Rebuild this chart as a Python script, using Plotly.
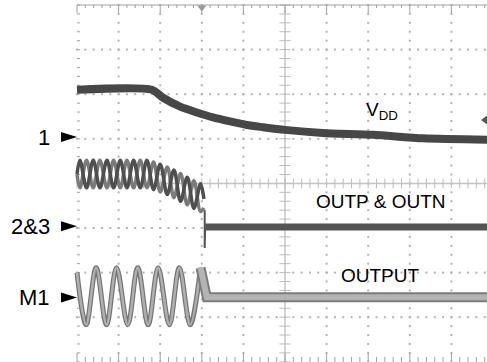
import numpy as np
import plotly.graph_objects as go

# all values in scope divisions (10 x 8 screen, centre = 0,0)
vdd_t = [-5.0, -3.20, -2.93, -2.52, -2.12, -1.73, -1.32, -0.92, -0.53, 0.0, 0.91, 2.12, 3.32, 4.90]
vdd_v = [2.10, 2.10, 1.92, 1.72, 1.59, 1.48, 1.39, 1.31, 1.26, 1.20, 1.13, 1.09, 1.01, 0.98]

osc_t = [-5.00, -4.93, -4.77, -4.61, -4.45, -4.28, -4.12, -3.96, -3.80, -3.64, -3.48,
         -3.32, -3.16, -3.00, -2.83, -2.67, -2.51, -2.35, -2.19, -2.03, -1.95]
outp_v = [0.21, 0.52, -0.10, 0.52, -0.10, 0.52, -0.10, 0.52, -0.10, 0.52, -0.10,
          0.52, -0.14, 0.43, -0.25, 0.30, -0.40, 0.14, -0.56, -0.01, -0.35]
outn_v = [0.21, -0.10, 0.52, -0.10, 0.52, -0.10, 0.52, -0.10, 0.52, -0.10, 0.52,
          -0.10, 0.48, -0.19, 0.37, -0.32, 0.22, -0.48, 0.06, -0.63, -0.55]
out23_t = [-1.93, -1.93, -1.93, -1.92, 4.90]
out23_v = [-0.60, -1.45, -1.00, -0.98, -0.98]

m1_t = [-5.0, -4.78, -4.54, -4.29, -4.05, -3.78, -3.54, -3.29, -3.05, -2.78, -2.54, -2.28, -2.03]
m1_v = [-2.0, -3.17, -1.89, -3.17, -1.89, -3.17, -1.89, -3.17, -1.89, -3.17, -1.89, -3.17, -1.89]
m1_end_t = [-2.03, -1.88, 4.90]
m1_end_v = [-1.89, -2.55, -2.55]

ch_labels = ["1", "2&3", "M1"]
ch_levels = [1.04, -0.96, -2.56]

PX_X = 41.6
PX_Y = 44.6
FONT = "Liberation Sans, Arial, sans-serif"
GRID = "#b2b2b2"

fig = go.Figure()

# dotted graticule
dx = np.round(np.arange(-5, 5.001, 0.2), 3)
dy = np.round(np.arange(-4, 4.001, 0.2), 3)
gx, gy = [], []
for yy in [-3, -2, -1, 1, 2, 3]:
    gx += list(dx)
    gy += [yy] * len(dx)
for xx in [-4, -3, -2, -1, 1, 2, 3, 4]:
    gx += [xx] * len(dy)
    gy += list(dy)
fig.add_trace(go.Scatter(x=gx, y=gy, mode="markers",
                         marker=dict(symbol="square", size=2, color=GRID, line_width=0)))

# centre cross with ticks
fig.add_trace(go.Scatter(x=[0, 0, None, -5, 5], y=[-4, 4, None, 0, 0], mode="lines",
                         line=dict(color="#c4c4c4", width=1.5)))
fig.add_trace(go.Scatter(x=[0] * len(dy), y=dy, mode="markers",
                         marker=dict(symbol="line-ew", size=8, line=dict(color="#bdbdbd", width=1))))
fig.add_trace(go.Scatter(x=dx, y=[0] * len(dx), mode="markers",
                         marker=dict(symbol="line-ns", size=7, line=dict(color="#bdbdbd", width=1))))

# edge ticks
ex, ey = [-5, 5, None], [4, 4, None]
for v in dx:
    major = abs(v - round(v)) < 1e-6
    ex += [v, v, None]
    ey += [4, 4 - (8 if major else 3) / PX_Y, None]
    ex += [v, v, None]
    ey += [-4.004, -4.004 + (9 if major else 5) / PX_Y, None]
for v in dy:
    ex += [-5, -5 + 3 / PX_X, None]
    ey += [v, v, None]
fig.add_trace(go.Scatter(x=ex, y=ey, mode="lines", line=dict(color="#a0a0a0", width=1)))

# VDD
fig.add_trace(go.Scatter(x=vdd_t, y=vdd_v, mode="lines",
                         line=dict(color="#474747", width=8, shape="spline", smoothing=0.7)))

# OUTP / OUTN
fig.add_trace(go.Scatter(x=osc_t, y=outn_v, mode="lines",
                         line=dict(color="#7a7a7a", width=3.5, shape="spline", smoothing=1)))
fig.add_trace(go.Scatter(x=osc_t, y=outp_v, mode="lines",
                         line=dict(color="#4f4f4f", width=3.5, shape="spline", smoothing=1)))
fig.add_trace(go.Scatter(x=out23_t, y=out23_v, mode="lines",
                         line=dict(color="#555555", width=2)))
fig.add_trace(go.Scatter(x=out23_t[3:], y=out23_v[3:], mode="lines",
                         line=dict(color="#555555", width=7)))

# M1 output
for w, c in [(5, "#767676"), (2.5, "#b0b0b0")]:
    fig.add_trace(go.Scatter(x=m1_t, y=m1_v, mode="lines",
                             line=dict(color=c, width=w, shape="spline", smoothing=1)))
for w, c in [(10, "#7c7c7c"), (6, "#b4b4b4")]:
    fig.add_trace(go.Scatter(x=m1_end_t, y=m1_end_v, mode="lines", line=dict(color=c, width=w)))

# trigger markers
fig.add_trace(go.Scatter(x=[-2.0], y=[4 - 2.5 / PX_Y], mode="markers",
                         marker=dict(symbol="triangle-down", size=8, color="#9a9a9a")))
fig.add_trace(go.Scatter(x=[4.81], y=[1.42], mode="markers", cliponaxis=False,
                         marker=dict(symbol="triangle-left", size=8, color="#555555")))

# channel labels and ground arrows
for lab, lev in zip(ch_labels, ch_levels):
    fig.add_annotation(x=-5 - 25 / PX_X, y=lev, text=lab, showarrow=False, xanchor="right",
                       yanchor="middle", font=dict(family=FONT, size=22, color="black"))
    fig.add_shape(type="path", line_width=0, fillcolor="black",
                  path=f"M {-5 - 16 / PX_X},{lev + 5 / PX_Y} L -5,{lev} L {-5 - 16 / PX_X},{lev - 5 / PX_Y} Z")

for txt, xx, yy in [("V<sub>DD</sub>", 2.33, 1.62), ("OUTP & OUTN", 2.30, -0.41), ("OUTPUT", 2.30, -2.06)]:
    fig.add_annotation(x=xx, y=yy, text=txt, showarrow=False,
                       font=dict(family=FONT, size=19, color="black"))

fig.update_layout(
    width=487,
    height=362,
    margin=dict(l=0, r=0, t=0, b=0),
    paper_bgcolor="white",
    plot_bgcolor="white",
    showlegend=False,
    xaxis=dict(range=[-5 - 77 / PX_X, -5 + 410 / PX_X], visible=False, fixedrange=True),
    yaxis=dict(range=[4 - 357 / PX_Y, 4 + 5 / PX_Y], visible=False, fixedrange=True),
)

fig.write_html("out.html", config={"displayModeBar": False},
               post_script="document.body.style.margin='0';document.body.style.overflow='hidden';")
